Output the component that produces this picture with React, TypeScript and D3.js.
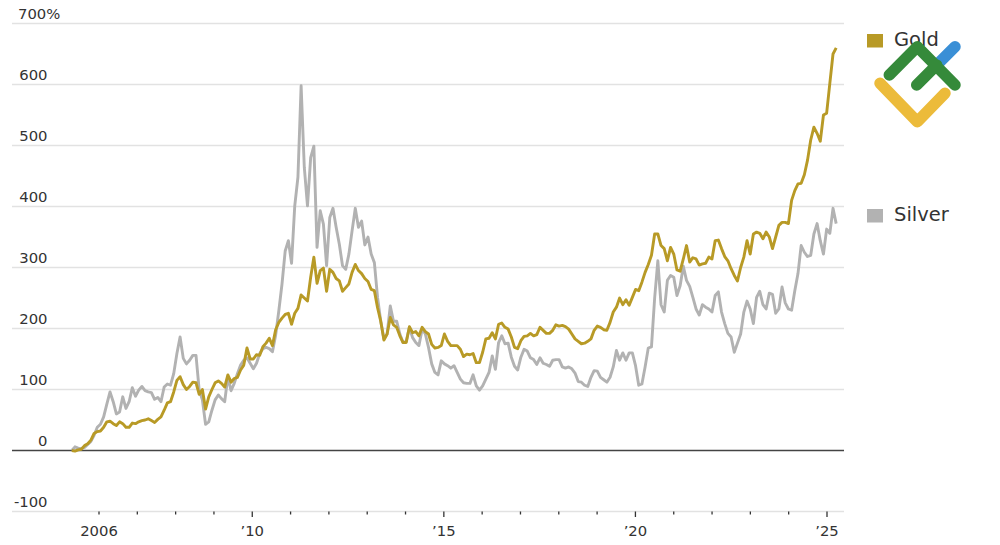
import React from "react";
import * as d3 from "d3";

const startYear = 2005.29;
const spanYears = 19.95;
const gold = [0,-1,1,2,8,11,17,28,31,32,38,47,48,44,41,47,44,38,38,45,44,47,49,50,52,49,46,51,55,66,78,80,96,115,121,108,100,105,112,111,92,100,68,88,100,111,114,110,104,124,112,118,120,132,140,168,150,150,157,156,170,176,184,172,198,210,217,223,225,207,225,233,255,250,245,284,317,274,295,299,261,297,292,282,278,261,267,273,292,305,295,290,282,277,264,262,234,212,181,191,218,206,202,188,177,177,203,193,195,188,202,195,191,174,168,169,172,191,179,172,172,172,166,154,158,157,159,144,144,161,183,184,193,183,207,209,202,199,186,169,167,180,187,188,192,188,190,202,197,192,192,197,206,204,205,203,199,191,183,179,175,176,179,183,197,204,202,198,197,210,227,235,250,239,247,238,251,264,262,276,292,305,320,355,355,336,331,311,333,322,296,294,314,336,309,316,314,304,306,307,317,314,344,345,331,318,311,298,287,278,300,317,344,322,355,358,356,347,358,350,331,350,369,374,374,372,410,426,437,438,452,476,509,530,520,507,550,553,602,650,660];
const silver = [0,6,4,3,5,10,15,25,38,43,55,76,96,80,60,63,88,69,80,103,89,99,105,98,96,95,84,87,80,104,109,107,126,159,186,151,142,148,156,156,99,83,43,47,66,83,91,85,80,121,98,110,126,140,148,152,143,134,143,159,167,169,167,162,189,229,273,327,344,307,401,448,598,464,401,480,499,333,393,371,303,382,397,366,338,303,297,322,360,397,366,376,337,350,322,308,251,212,183,191,237,212,212,191,177,179,202,185,177,172,199,191,169,142,128,124,147,142,139,135,139,128,117,111,110,110,124,106,99,106,117,128,155,133,177,188,175,176,153,138,132,153,166,163,152,149,141,152,143,141,138,148,149,149,137,135,137,134,127,113,112,107,105,120,131,130,120,116,112,120,137,164,148,160,148,160,160,139,107,109,137,168,170,250,311,239,227,279,287,284,254,270,302,279,269,251,232,222,239,235,232,227,254,260,227,208,192,186,161,176,191,227,245,232,208,251,261,239,232,258,256,225,232,268,242,232,230,262,290,336,325,318,320,355,372,344,322,363,356,397,372];
const yTicks = [-100,0,100,200,300,400,500,600,700];
const yLabels = ["-100","0","100","200","300","400","500","600","700%"];
const years = d3.range(2006, 2026);
const labelledYears = [2006,2010,2015,2020,2025];
const xLabels = ["2006","’10","’15","’20","’25"];
const legendItems = ["Gold","Silver"];
const legendColors = ["#b89a26","#b2b2b2"];

const FONT = "'DejaVu Sans', sans-serif";
const x = d3.scaleLinear().domain([2006, 2025]).range([99, 827]);
const y = d3.scaleLinear().domain([-100, 700]).range([511.5, 23.5]);
const line = d3.line<number>().x((_, i) => x(startYear + (i / 240) * spanYears)).y(d => y(d));

export default function App() {
  return (
    <svg width={1000} height={545} viewBox="0 0 1000 545"
      style={{ position: "absolute", left: 0, top: 0, background: "#fff" }} fontFamily={FONT}>
      {yTicks.map((t, i) => (
        <g key={t}>
          <line x1={12} x2={844} y1={y(t)} y2={y(t)}
            stroke={t === 0 ? "#444" : "#e2e2e2"} strokeWidth={t === 0 ? 1.6 : 1.3} />
          <text x={t === 700 ? 18 : 47.5} y={y(t) - 4.5} textAnchor={t === 700 ? "start" : "end"}
            fontSize={14.8} fill="#333">{yLabels[i]}</text>
        </g>
      ))}
      {years.map(yr => {
        const long = labelledYears.includes(yr) && yr !== 2006;
        return <line key={yr} x1={x(yr)} x2={x(yr)} y1={511.5} y2={long ? 517 : 514.5} stroke="#333" strokeWidth={1.3} />;
      })}
      {labelledYears.map((yr, i) => (
        <text key={yr} x={x(yr)} y={536} textAnchor="middle" fontSize={14.8} fill="#333">{xLabels[i]}</text>
      ))}
      <path d={line(silver) ?? ""} fill="none" stroke={legendColors[1]} strokeWidth={2.9} strokeLinejoin="round" />
      <path d={line(gold) ?? ""} fill="none" stroke={legendColors[0]} strokeWidth={2.9} strokeLinejoin="round" />
      {legendItems.map((name, i) => {
        const top = i === 0 ? 34 : 209;
        return (
          <g key={name}>
            <rect x={867} y={top} width={16} height={13.5} fill={legendColors[i]} />
            <text x={894} y={top + 12} fontSize={19.5} fill="#333">{name}</text>
          </g>
        );
      })}
      <g fill="none" strokeWidth={11.5} strokeLinecap="round" strokeLinejoin="round">
        <path d="M940 61.7L955 46.7" stroke="#3a8fd6" />
        <path d="M880 83.3L917.3 121.7L945 93.3" stroke="#ecbb3a" />
        <path d="M889.3 75L917.3 46.7L955 85M916.7 85L936.7 65" stroke="#358a3a" />
      </g>
    </svg>
  );
}
